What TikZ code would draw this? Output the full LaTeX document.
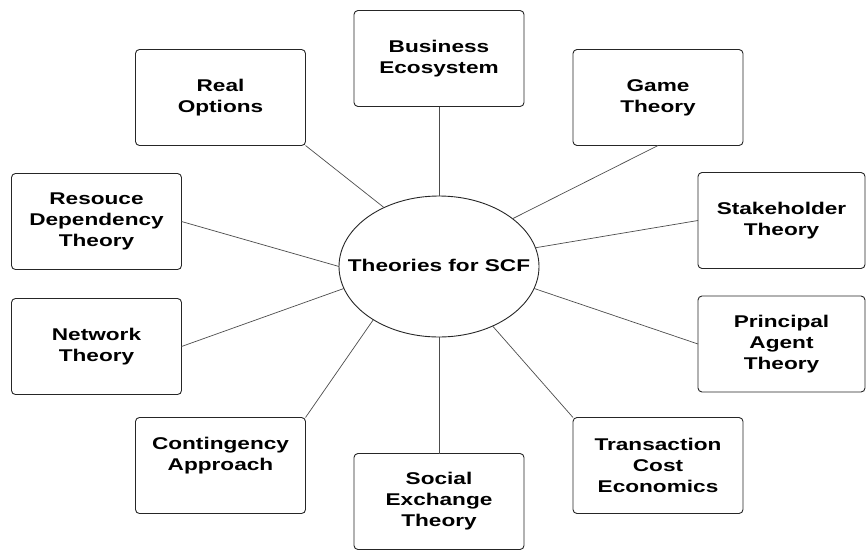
\documentclass[tikz,border=0pt]{standalone}
\usepackage{fontspec}
\setmainfont{Liberation Sans}[FakeStretch=1.33]
\usetikzlibrary{shapes.geometric}
\begin{document}
\begin{tikzpicture}[x=1pt,y=-1pt,
  theory/.style={draw=black!85, line width=0.9pt, rounded corners=4pt,
    minimum width=170pt, minimum height=96pt, inner sep=0pt, outer sep=0pt,
    align=center, font=\fontsize{17}{21}\selectfont\bfseries},
  hub/.style={ellipse, draw=black!85, line width=0.9pt, minimum width=200pt,
    minimum height=141pt, inner sep=0pt, outer sep=0pt,
    font=\fontsize{17}{21}\selectfont\bfseries},
  link/.style={draw=black!70, line width=0.7pt}]
\useasboundingbox (0,0) rectangle (866,549);

\node[hub] (e) at (439,266.5) {\raisebox{3pt}{\makebox[0pt]{Theories for SCF}}};

\node[theory] (bus)   at (439,58.5)  {Business\\Ecosystem};
\node[theory] (real)  at (220.5,97.5) {Real\\Options};
\node[theory] (game)  at (658,97.5)  {Game\\Theory};
\node[theory] (res)   at (96.5,221.5) {Resouce\\Dependency\\Theory};
\node[theory, minimum width=167pt] (stake) at (781.5,220.5) {Stakeholder\\Theory};
\node[theory] (net)   at (96.5,346.5) {Network\\Theory};
\node[theory, minimum width=167pt] (prin)  at (781.5,344) {Principal\\Agent\\Theory};
\node[theory] (cont)  at (220.5,465.5) {Contingency\\Approach\\[3pt]};
\node[theory] (soc)   at (439,501.5) {Social\\Exchange\\Theory};
\node[theory] (trans) at (658,465.5) {Transaction\\Cost\\Economics};

\draw[link] (bus.south)  -- (e.north);
\draw[link] (real.south east) -- (e.133);
\draw[link] (game.south) -- (e.33);
\draw[link] (stake.west) -- (e.11);
\draw[link] (res.east)   -- (e.west);
\draw[link] (net.east)   -- (e.193);
\draw[link] (cont.north east) -- (e.219);
\draw[link] (e.south)    -- (soc.north);
\draw[link] (trans.north west) -- (e.-48);
\draw[link] (prin.west)  -- (e.-13);
\end{tikzpicture}
\end{document}
